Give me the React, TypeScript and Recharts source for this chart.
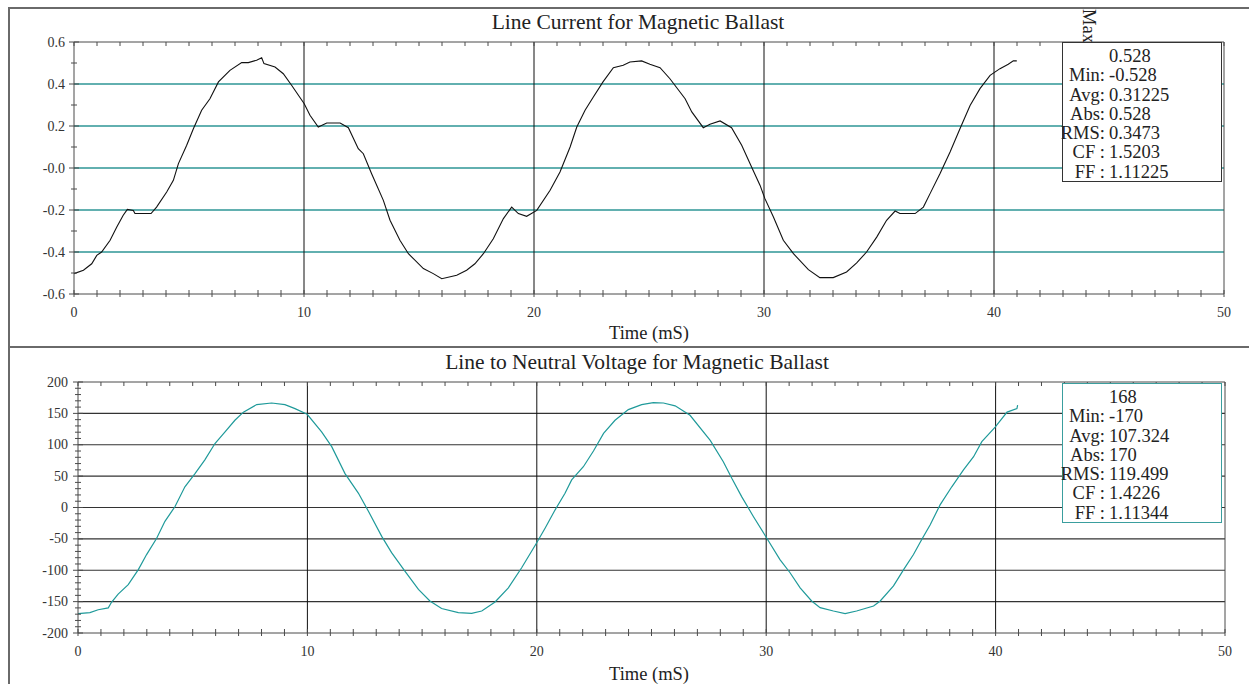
import React from "react";
import { LineChart, Line, XAxis, YAxis, ReferenceLine } from "recharts";

// line current (A)
const currentTime = [0, 0.41, 0.77, 0.99, 1.2, 1.57, 1.86, 2.14, 2.32, 2.58, 2.65, 3.35, 3.59, 4.03, 4.32, 4.54, 4.9, 5.19, 5.55, 5.91, 6.28, 6.78, 7.29, 7.58, 7.94, 8.16, 8.26, 8.74, 9.1, 9.46, 10.01, 10.26, 10.62, 10.99, 11.57, 11.93, 12.36, 12.58, 12.94, 13.45, 13.74, 14.17, 14.54, 15.19, 15.62, 15.99, 16.64, 17.07, 17.43, 17.8, 18.23, 18.67, 19.03, 19.32, 19.68, 20.12, 20.7, 21.13, 21.57, 21.86, 22.22, 22.58, 23.0, 23.45, 23.88, 24.17, 24.68, 25.04, 25.48, 25.91, 26.57, 26.86, 27.36, 27.65, 28.09, 28.59, 29.03, 29.46, 29.83, 30.04, 30.41, 30.84, 31.28, 31.93, 32.43, 33.01, 33.59, 34.03, 34.46, 34.9, 35.33, 35.7, 35.91, 36.57, 36.93, 37.22, 37.65, 38.09, 38.52, 38.96, 39.39, 39.83, 40.26, 40.62, 40.84, 40.99];
const currentAmps = [-0.503, -0.487, -0.456, -0.416, -0.4, -0.344, -0.281, -0.225, -0.197, -0.202, -0.217, -0.217, -0.186, -0.114, -0.059, 0.021, 0.108, 0.187, 0.275, 0.33, 0.41, 0.465, 0.502, 0.502, 0.513, 0.525, 0.497, 0.481, 0.449, 0.394, 0.306, 0.251, 0.195, 0.214, 0.214, 0.192, 0.092, 0.068, -0.027, -0.154, -0.249, -0.344, -0.408, -0.479, -0.503, -0.527, -0.511, -0.487, -0.456, -0.408, -0.337, -0.241, -0.186, -0.217, -0.23, -0.202, -0.106, -0.019, 0.1, 0.195, 0.275, 0.338, 0.41, 0.478, 0.489, 0.505, 0.51, 0.494, 0.478, 0.425, 0.33, 0.267, 0.192, 0.208, 0.224, 0.192, 0.108, 0.005, -0.083, -0.146, -0.233, -0.344, -0.408, -0.484, -0.522, -0.522, -0.495, -0.452, -0.4, -0.329, -0.249, -0.205, -0.217, -0.217, -0.186, -0.122, -0.027, 0.076, 0.187, 0.298, 0.378, 0.441, 0.473, 0.494, 0.51, 0.51];

// line to neutral voltage (V)
const voltageTime = [0, 0.52, 0.88, 1.32, 1.46, 1.75, 2.19, 2.63, 2.99, 3.43, 3.79, 4.23, 4.66, 5.1, 5.53, 5.97, 6.41, 6.84, 7.21, 7.79, 8.44, 9.02, 9.46, 9.99, 10.62, 11.06, 11.64, 12.22, 12.66, 13.24, 13.67, 14.25, 14.84, 15.34, 15.85, 16.58, 17.16, 17.6, 18.18, 18.76, 19.34, 19.99, 20.36, 20.8, 21.23, 21.52, 22.03, 22.47, 22.91, 23.41, 23.99, 24.57, 25.08, 25.52, 26.03, 26.68, 27.56, 28.13, 28.5, 28.93, 29.44, 30.02, 30.6, 31.04, 31.48, 31.98, 32.35, 32.93, 33.44, 33.94, 34.68, 34.97, 35.55, 35.99, 36.42, 36.78, 37.15, 37.58, 38.09, 38.6, 39.04, 39.4, 39.98, 40.5, 40.93, 40.96];
const voltageVolts = [-169, -167.5, -163, -160, -151, -138, -123, -99, -75, -49, -22, 1.6, 33, 54, 76, 102, 120.5, 139, 152, 164, 166.5, 164, 157.5, 148.5, 120.5, 97, 54, 23, -6, -46, -72, -101.5, -130.5, -149, -161, -167.5, -168.6, -165, -150.6, -128, -96, -56.5, -33, -3.7, 22.7, 44, 65, 90, 118, 139, 156, 164, 167, 166.5, 162, 147, 107, 73, 46.5, 17.4, -14.3, -48.6, -83, -104, -128, -149, -159.6, -165, -169, -165, -157, -149, -125, -99, -75, -51, -27.5, 4.2, 33, 60, 81, 105, 128, 152, 157.5, 163];

const timeTicks = [0, 1, 2, 3, 4, 5, 6, 7, 8, 9, 10, 11, 12, 13, 14, 15, 16, 17, 18, 19, 20, 21, 22, 23, 24, 25, 26, 27, 28, 29, 30, 31, 32, 33, 34, 35, 36, 37, 38, 39, 40, 41, 42, 43, 44, 45, 46, 47, 48, 49, 50];
const timeLabels = [0, 10, 20, 30, 40, 50];
const timeGrid = [10, 20, 30, 40];

const currentTicks = [-0.6, -0.5, -0.4, -0.3, -0.2, -0.1, 0, 0.1, 0.2, 0.3, 0.4, 0.5, 0.6];
const currentMajor = [-0.6, -0.4, -0.2, 0, 0.2, 0.4, 0.6];
const currentMajorText = ["-0.6", "-0.4", "-0.2", "-0.0", "0.2", "0.4", "0.6"];
const currentGrid = [-0.4, -0.2, 0, 0.2, 0.4];

const voltageTicks = [-200, -190, -180, -170, -160, -150, -140, -130, -120, -110, -100, -90, -80, -70, -60, -50, -40, -30, -20, -10, 0, 10, 20, 30, 40, 50, 60, 70, 80, 90, 100, 110, 120, 130, 140, 150, 160, 170, 180, 190, 200];
const voltageMajor = [-200, -150, -100, -50, 0, 50, 100, 150, 200];
const voltageMajorText = ["-200", "-150", "-100", "-50", "0", "50", "100", "150", "200"];
const voltageGrid = [-150, -100, -50, 0, 50, 100, 150];

const statLabels = ["", "Min:", "Avg:", "Abs:", "RMS:", "CF :", "FF :"];
const currentStats = ["0.528", "-0.528", "0.31225", "0.528", "0.3473", "1.5203", "1.11225"];
const voltageStats = ["168", "-170", "107.324", "170", "119.499", "1.4226", "1.11344"];

const currentData = currentTime.map((t, i) => ({ t, v: currentAmps[i] }));
const voltageData = voltageTime.map((t, i) => ({ t, v: voltageVolts[i] }));

const FONT = "'Liberation Serif', 'Times New Roman', serif";
const AXIS = "#4a4a4a";
const TEAL = "#1f9a9a";

const near = (a: number, b: number) => Math.abs(a - b) < 1e-6;

function bottomTick(props: any) {
  const { x, y, payload } = props;
  const label = timeLabels.some((m) => near(m, payload.value));
  return (
    <g>
      <line x1={x} x2={x} y1={y - 4} y2={y + 3} stroke={AXIS} />
      {label && (
        <text x={x} y={y + 18} textAnchor="middle" dominantBaseline="central" fontFamily={FONT} fontSize={14} fill="#333">
          {payload.value}
        </text>
      )}
    </g>
  );
}

function topTick(props: any) {
  const { x, y } = props;
  return <line x1={x} x2={x} y1={y} y2={y + 4} stroke={AXIS} />;
}

function makeLeftTick(major: number[], texts: string[], offset: number) {
  return (props: any) => {
    const { x, y, payload } = props;
    const idx = major.findIndex((m) => near(m, payload.value));
    const len = idx >= 0 ? 5 : 3;
    return (
      <g>
        <line x1={x - len} x2={x + len} y1={y} y2={y} stroke={AXIS} />
        {idx >= 0 && (
          <text x={x - offset} y={y} textAnchor="end" dominantBaseline="central" fontFamily={FONT} fontSize={14} fill="#333">
            {texts[idx]}
          </text>
        )}
      </g>
    );
  };
}

function rightTick(props: any) {
  const { x, y } = props;
  return <line x1={x - 3} x2={x + 3} y1={y} y2={y} stroke={AXIS} />;
}

function StatBox({ top, values, border }: { top: number; values: string[]; border: string }) {
  return (
    <div
      style={{
        position: "absolute",
        left: 1062,
        top,
        width: 160,
        height: 140,
        background: "#fff",
        border: `1px solid ${border}`,
        fontFamily: FONT,
        fontSize: 18.5,
        color: "#222",
        paddingTop: 4,
        boxSizing: "border-box",
      }}
    >
      {values.map((v, i) => (
        <div key={i} style={{ display: "flex", height: 19.3, lineHeight: "19.3px", whiteSpace: "nowrap" }}>
          <div style={{ width: 42, flexShrink: 0, display: "flex", justifyContent: "flex-end" }}>
            <span>{statLabels[i]}</span>
          </div>
          <span style={{ marginLeft: 4 }}>{v}</span>
        </div>
      ))}
    </div>
  );
}

export default function App() {
  return (
    <div style={{ position: "absolute", left: 0, top: 0, width: 1249, height: 684, overflow: "hidden", background: "#fff" }}>
      {/* panel frames */}
      <div style={{ position: "absolute", left: 8, top: 7, width: 1260, height: 340, borderTop: "2px solid #6a6a6a", borderLeft: "2px solid #6a6a6a" }} />
      <div style={{ position: "absolute", left: 8, top: 346, width: 1260, height: 400, borderTop: "2px solid #6a6a6a", borderLeft: "2px solid #6a6a6a" }} />

      {/* top chart */}
      <div style={{ position: "absolute", left: 0, top: 0 }}>
        <LineChart width={1249} height={345} data={currentData} margin={{ top: 32, right: 15, bottom: 21, left: 14 }}>
          <XAxis type="number" dataKey="t" domain={[0, 50]} ticks={timeTicks} interval={0} tickSize={0} tickMargin={0} tick={bottomTick} height={30} stroke={AXIS} />
          <XAxis xAxisId="top" orientation="top" type="number" dataKey="t" domain={[0, 50]} ticks={timeTicks} interval={0} tickSize={0} tickMargin={0} tick={topTick} height={10} stroke={AXIS} />
          <YAxis type="number" domain={[-0.6, 0.6]} ticks={currentTicks} interval={0} tickSize={0} tickMargin={0} tick={makeLeftTick(currentMajor, currentMajorText, 9)} width={60} stroke={AXIS} allowDataOverflow />
          <YAxis yAxisId="right" orientation="right" type="number" domain={[-0.6, 0.6]} ticks={currentTicks} interval={0} tickSize={0} tickMargin={0} tick={rightTick} width={10} stroke={AXIS} />
          {currentGrid.map((g) => (
            <ReferenceLine key={`cg${g}`} y={g} stroke="#62b0b0" strokeWidth={2} />
          ))}
          {timeGrid.map((g) => (
            <ReferenceLine key={`ct${g}`} x={g} stroke="#111" strokeWidth={1} />
          ))}
          <Line type="linear" dataKey="v" stroke="#111" strokeWidth={1.1} dot={false} isAnimationActive={false} />
        </LineChart>
      </div>

      {/* bottom chart */}
      <div style={{ position: "absolute", left: 0, top: 340 }}>
        <LineChart width={1249} height={344} data={voltageData} margin={{ top: 32, right: 14, bottom: 21, left: 18 }}>
          <XAxis type="number" dataKey="t" domain={[0, 50]} ticks={timeTicks} interval={0} tickSize={0} tickMargin={0} tick={bottomTick} height={30} stroke={AXIS} />
          <XAxis xAxisId="top" orientation="top" type="number" dataKey="t" domain={[0, 50]} ticks={timeTicks} interval={0} tickSize={0} tickMargin={0} tick={topTick} height={10} stroke={AXIS} />
          <YAxis type="number" domain={[-200, 200]} ticks={voltageTicks} interval={0} tickSize={0} tickMargin={0} tick={makeLeftTick(voltageMajor, voltageMajorText, 10)} width={60} stroke={AXIS} allowDataOverflow />
          <YAxis yAxisId="right" orientation="right" type="number" domain={[-200, 200]} ticks={voltageTicks} interval={0} tickSize={0} tickMargin={0} tick={rightTick} width={10} stroke={AXIS} />
          {voltageGrid.map((g) => (
            <ReferenceLine key={`vg${g}`} y={g} stroke="#333" strokeWidth={1.2} />
          ))}
          {timeGrid.map((g) => (
            <ReferenceLine key={`vt${g}`} x={g} stroke="#111" strokeWidth={1} />
          ))}
          <Line type="linear" dataKey="v" stroke={TEAL} strokeWidth={1.2} dot={false} isAnimationActive={false} />
        </LineChart>
      </div>

      {/* titles and axis captions */}
      <div style={{ position: "absolute", left: 0, top: 10, width: 1276, textAlign: "center", fontFamily: FONT, fontSize: 21.5, lineHeight: "24px", color: "#222" }}>
        Line Current for Magnetic Ballast
      </div>
      <div style={{ position: "absolute", left: 0, top: 323, width: 1298, textAlign: "center", fontFamily: FONT, fontSize: 18.5, lineHeight: "20px", color: "#222" }}>
        Time (mS)
      </div>
      <div style={{ position: "absolute", left: 0, top: 350, width: 1274, textAlign: "center", fontFamily: FONT, fontSize: 21.5, lineHeight: "24px", color: "#222" }}>
        Line to Neutral Voltage for Magnetic Ballast
      </div>
      <div style={{ position: "absolute", left: 0, top: 664, width: 1298, textAlign: "center", fontFamily: FONT, fontSize: 18.5, lineHeight: "20px", color: "#222" }}>
        Time (mS)
      </div>

      {/* rotated Max: caption, partly under the stats box */}
      <div style={{ position: "absolute", left: 1099, top: 9, transform: "rotate(90deg)", transformOrigin: "left top", fontFamily: FONT, fontSize: 18.5, lineHeight: "20px", color: "#222" }}>
        Max:
      </div>
      <StatBox top={42} values={currentStats} border="#333" />
      <StatBox top={383} values={voltageStats} border="#3a9e9e" />
    </div>
  );
}
